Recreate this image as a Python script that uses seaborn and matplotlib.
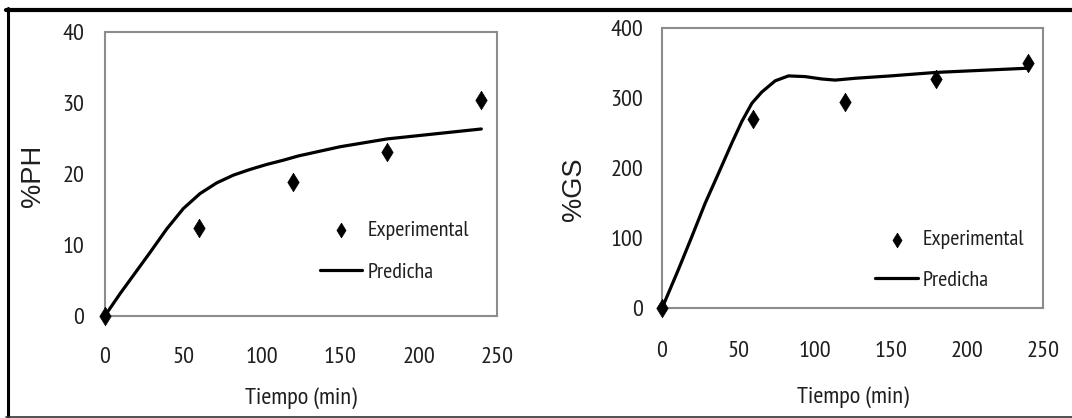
import matplotlib
matplotlib.use("Agg")
import matplotlib.pyplot as plt
from matplotlib.lines import Line2D
from matplotlib import font_manager
from matplotlib.font_manager import FontProperties
import seaborn as sns
import pandas as pd

# ---------------- data ----------------
tiempo_exp = [0, 60, 120, 180, 240]
ph_exp = [0, 12.4, 18.8, 23.0, 30.4]
gs_exp = [0, 270, 295, 327, 350]

tiempo_ph_pred = [0, 9.6, 18, 28.7, 39.3, 50, 60.6, 71.2, 81.9, 92.5, 103.1, 113.7, 123.3,
                  150, 180, 210, 240]
ph_pred = [0, 3.1, 5.65, 8.9, 12.2, 15.1, 17.2, 18.7, 19.8, 20.6, 21.3, 21.9, 22.5,
           23.8, 24.9, 25.6, 26.3]

tiempo_gs_pred = [0, 10.7, 19.5, 28.3, 37.1, 45.8, 52.4, 59, 65.5, 74.3, 83, 93.9, 104.8,
                  113.6, 126.8, 150, 180, 210, 240]
gs_pred = [0, 55, 102, 150, 193, 236, 267, 293, 309, 325, 332, 331, 327.6,
           326, 328.6, 332, 337, 340, 343]

x_ticks = [0, 50, 100, 150, 200, 250]
ph_ticks = [0, 10, 20, 30, 40]
gs_ticks = [0, 100, 200, 300, 400]

xlabel = "Tiempo (min)"
ylabel_ph = "%PH"
ylabel_gs = "%GS"
legend_exp = "Experimental"
legend_pred = "Predicha"

# ---------------- style ----------------
sns.set_theme(style="white")
TXT = "#1f1f1f"
SPINE = "#8c8c8c"

W, H = 1072, 418
fig = plt.figure(figsize=(W / 100, H / 100), dpi=100)
fig.patch.set_facecolor("white")
renderer = fig.canvas.get_renderer()


def measure(text, family, size):
    prop = FontProperties(family=family, size=size)
    return renderer.get_text_width_height_descent(text, prop, ismath=False)


# choose a narrow grotesque font whose proportions best match the picture
names = {f.name for f in font_manager.fontManager.ttflist}
candidates = ["Liberation Sans Narrow", "Arial Narrow", "Pragati Narrow", "Archivo Narrow",
              "PT Sans Narrow", "Sofia Sans Condensed", "Sofia Sans Semi Condensed",
              "Roboto Condensed", "Fira Sans Condensed", "IBM Plex Sans Condensed",
              "Barlow Semi Condensed", "Asap Condensed", "Encode Sans Condensed"]
target_ratio = 32 / 17.0
best, best_err = "Liberation Sans", None
for c in candidates:
    if c not in names:
        continue
    w, h, d = measure("400", [c], 100)
    err = abs(w / (h - d) - target_ratio)
    if best_err is None or err < best_err - 0.03:
        best, best_err = c, err
NARROW = [best, "DejaVu Sans"]
REG = ["Liberation Sans", "DejaVu Sans"]
plt.rcParams["font.family"] = NARROW


def fit(text, family, target_w, ref_text, target_h):
    w, _, _ = measure(text, family, 100)
    _, h, d = measure(ref_text, family, 100)
    s_w = 100 * target_w / w
    s_h = 100 * target_h / (h - d)
    return s_w ** 0.15 * s_h ** 0.85


tick_fs = fit("400", NARROW, 32, "400", 17.5)
xlab_fs = fit(xlabel, NARROW, 113, "T", 17)
leg_fs = fit(legend_exp, NARROW, 102, "E", 15.5)
ylab_fs = 100 * 62 / measure(ylabel_ph, REG, 100)[0]

_, lp_h, lp_d = measure("lp", NARROW, tick_fs)
_, dg_h, dg_d = measure("0", NARROW, tick_fs)
digit_h = dg_h - dg_d
_, leg_lp_h, _ = measure("lp", NARROW, leg_fs)
px2pt = 72 / 100

diamond = [(0, 1), (0.62, 0), (0, -1), (-0.62, 0), (0, 1)]

panels = [
    dict(rect=[105 / W, 1 - 315.7 / H, 392 / W, 284 / H], yexp=ph_exp, xp=tiempo_ph_pred,
         yp=ph_pred, ylim=(0, 40), yticks=ph_ticks, ylabel=ylabel_ph, ypad=15,
         xtick_dy=39.5, xl=-0.2898, ylc=(-0.1824, 0.4919),
         leg_left=320, leg_row1=230, leg_row2=271, leg_hlen=42, leg_text=368),
    dict(rect=[662 / W, 1 - 308.3 / H, 381 / W, 280 / H], yexp=gs_exp, xp=tiempo_gs_pred,
         yp=gs_pred, ylim=(0, 400), yticks=gs_ticks, ylabel=ylabel_gs, ypad=13.5,
         xtick_dy=40.7, xl=-0.3179, ylc=(-0.2310, 0.426),
         leg_left=875, leg_row1=239.3, leg_row2=279, leg_hlen=43.3, leg_text=922.5),
]

leg_fs_px = leg_fs * 100 / 72

for p in panels:
    ax = fig.add_axes(p["rect"])
    df_exp = pd.DataFrame({"t": tiempo_exp, "v": p["yexp"]})
    df_pred = pd.DataFrame({"t": p["xp"], "v": p["yp"]})
    sns.lineplot(data=df_pred, x="t", y="v", ax=ax, color="black", linewidth=2.3,
                 label=legend_pred, zorder=2)
    sns.scatterplot(data=df_exp, x="t", y="v", ax=ax, marker=diamond, s=175,
                    color="black", edgecolor="black", linewidth=0.5,
                    label=legend_exp, zorder=3, clip_on=False)
    ax.set_xlim(0, 250)
    ax.set_ylim(*p["ylim"])
    ax.set_xticks(x_ticks)
    ax.set_yticks(p["yticks"])
    ax.tick_params(axis="both", length=0, labelsize=tick_fs, labelcolor=TXT)
    xpad_px = p["xtick_dy"] - (lp_h - lp_d) + digit_h / 2
    ax.tick_params(axis="x", pad=xpad_px * px2pt)
    ax.tick_params(axis="y", pad=p["ypad"])
    for s in ax.spines.values():
        s.set_visible(True)
        s.set_color(SPINE)
        s.set_linewidth(1.5)
    ax.set_xlabel(xlabel, fontsize=xlab_fs, color=TXT, family=NARROW)
    ax.xaxis.label.set_va("center")
    ax.xaxis.set_label_coords(0.5, p["xl"])
    ax.set_ylabel(p["ylabel"], fontsize=ylab_fs, color=TXT, family=REG)
    ax.yaxis.label.set_va("center")
    ax.yaxis.label.set_ha("center")
    ax.yaxis.set_label_coords(*p["ylc"])

    handles, labels = ax.get_legend_handles_labels()
    order = [labels.index(legend_exp), labels.index(legend_pred)]
    row_gap = p["leg_row2"] - p["leg_row1"]
    top = p["leg_row1"] - leg_lp_h / 2
    leg = ax.legend([handles[i] for i in order], [labels[i] for i in order],
                    loc="upper left", bbox_to_anchor=(p["leg_left"] / W, 1 - top / H),
                    bbox_transform=fig.transFigure,
                    frameon=False, borderpad=0, borderaxespad=0,
                    handlelength=p["leg_hlen"] / leg_fs_px,
                    handletextpad=(p["leg_text"] - p["leg_left"] - p["leg_hlen"]) / leg_fs_px,
                    labelspacing=max(row_gap - leg_lp_h, 0) / leg_fs_px, markerscale=0.8,
                    prop={"family": NARROW, "size": leg_fs})
    for t in leg.get_texts():
        t.set_color(TXT)

# outer frame of the figure picture
fig.add_artist(Line2D([6 / W, 1], [1 - 10 / H, 1 - 10 / H], transform=fig.transFigure,
                      color="black", linewidth=3))
fig.add_artist(Line2D([7.5 / W, 7.5 / W], [1 - 8 / H, 1 - 417 / H], transform=fig.transFigure,
                      color="black", linewidth=2.2))
fig.add_artist(Line2D([6 / W, 1], [1 - 416.8 / H, 1 - 416.8 / H], transform=fig.transFigure,
                      color="#333333", linewidth=1.2))

fig.savefig("out.png", dpi=100)
